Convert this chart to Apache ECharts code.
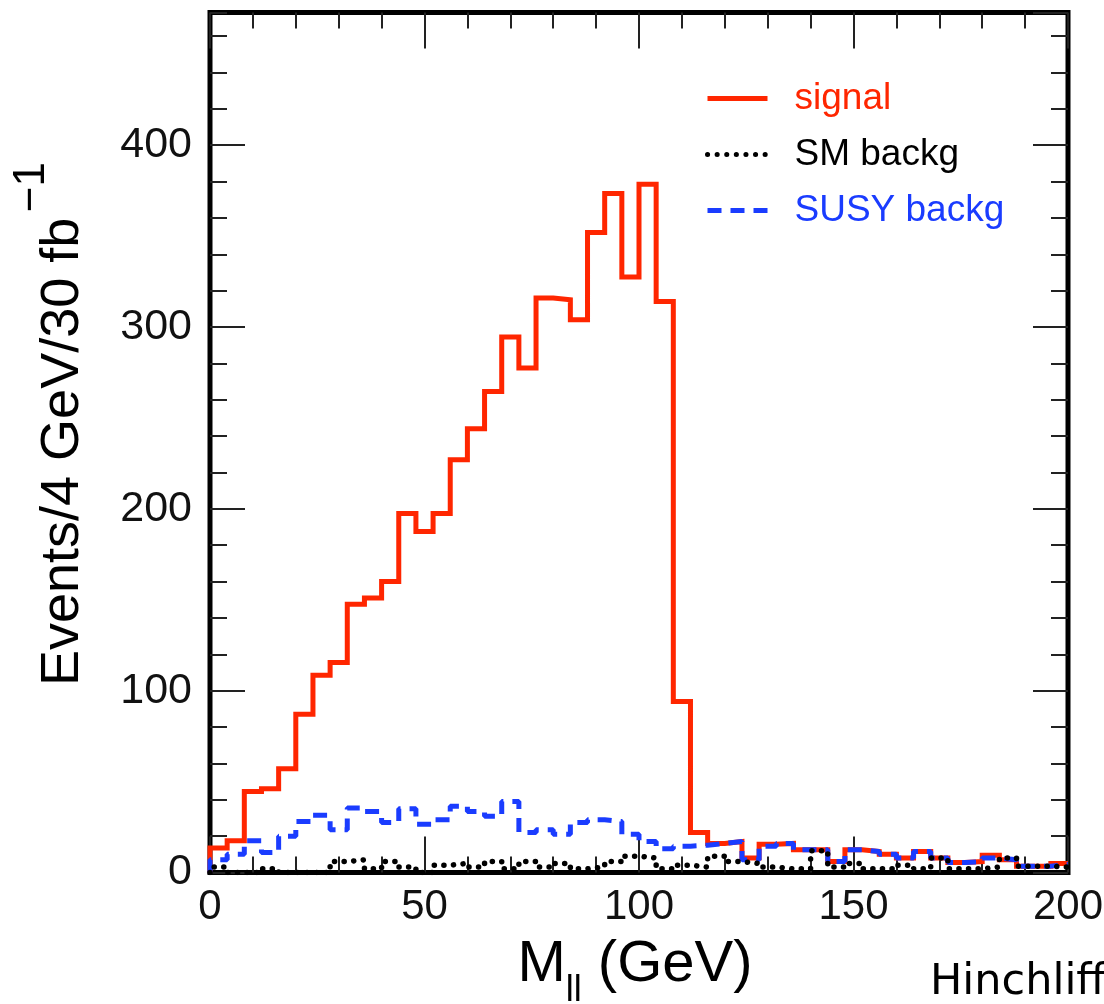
<!DOCTYPE html>
<html><head><meta charset="utf-8">
<script src="https://cdn.jsdelivr.net/npm/echarts@6/dist/echarts.min.js"></script>
<style>html,body{margin:0;padding:0;background:#fff}#c{width:1104px;height:1004px}</style>
</head><body><div id="c"></div>
<script>
// bin edges of the M_ll histogram (4 GeV bins, 0-200 GeV)
const binEdges = [0,4,8,12,16,20,24,28,32,36,40,44,48,52,56,60,64,68,72,76,80,84,88,92,96,100,104,108,112,116,120,124,128,132,136,140,144,148,152,156,160,164,168,172,176,180,184,188,192,196,200];
const signal = [13.5,17.5,44.5,46,57,87,108.5,115.5,147.5,151,160,197.5,187.5,197.5,227,244,264.5,294.5,277.5,316,315,304,352,373.5,327.5,378.5,314,94,22,16,17,8,15.5,16,12.5,12.5,6,12.5,11.5,10,8,11.5,8,5.5,6,9.5,7,3.5,3.5,5];
const smBackg = [3,0,0,2,0,0,0,6,7,2,6,3,0,4,5,3,6,2,6,3,5,2,3,6,9,8,2,4,3,9,6,5,3,2,2,12,3,5,2,2,4,2,8,2,2,3,8,3.5,3.5,3];
const susyBackg = [7,10,17.5,11,20,28,31.5,23.5,35.5,33.5,27.5,35,26.5,29,36.5,33.5,31,39,22,23.5,21,27.5,29,28,21,17,13,14.5,15,16,17,7,14.5,16,12.5,12.5,6,12.5,11.5,10,8,11.5,8,5.5,6,8,7,3.5,3.5,4.5];
const seriesNames = ['signal','SM backg','SUSY backg'];
const xTickLabels = [0,50,100,150,200];
const yTickLabels = [0,100,200,300,400];

function stepData(vals){
  const d = [[binEdges[0], 0]];
  vals.forEach((v,i) => d.push([binEdges[i], v]));
  d.push([binEdges[vals.length], vals[vals.length-1]]);
  return d;
}

const RED = '#ff2600', BLUE = '#1a3cff', BLACK = '#000';
const FONT = "'Liberation Sans', Arial, Helvetica, sans-serif";
const X_MIN = 0, X_MAX = 200, Y_MIN = 0, Y_MAX = 473;

const tickStyle = {color:'#222', width:2};
function xAx(pos, interval, len, labels, extra){
  return Object.assign({
    type:'value', position:pos, min:X_MIN, max:X_MAX, interval:interval,
    axisLine:{show:false, onZero:false}, splitLine:{show:false},
    axisTick:{show:true, inside:true, length:len, lineStyle:tickStyle},
    axisLabel: labels ? {show:true, fontSize:42, color:'#111', fontFamily:FONT, margin:14, showMinLabel:true, showMaxLabel:true,
      formatter: v => xTickLabels.includes(v) ? String(v) : ''} : {show:false}
  }, extra||{});
}
function yAx(pos, interval, len, labels, extra){
  return Object.assign({
    type:'value', position:pos, min:Y_MIN, max:Y_MAX, interval:interval,
    axisLine:{show:false, onZero:false}, splitLine:{show:false},
    axisTick:{show:true, inside:true, length:len, lineStyle:tickStyle},
    axisLabel: labels ? {show:true, fontSize:43, color:'#111', fontFamily:FONT, margin:18, showMaxLabel:false,
      formatter: v => yTickLabels.includes(v) ? String(v) : ''} : {show:false}
  }, extra||{});
}

const chart = echarts.init(document.getElementById('c'), null, {renderer:'canvas'});
chart.setOption({
  animation:false,
  backgroundColor:'#fff',
  grid:{left:210, right:36, top:12.5, bottom:131.5, outerBoundsMode:'none', containLabel:false,
        show:true, borderColor:'#000', borderWidth:5, backgroundColor:'transparent'},
  legend:{
    show:true, orient:'vertical', left:700, top:75, itemWidth:60, itemHeight:16, itemGap:19,
    textStyle:{fontSize:37, fontFamily:FONT, padding:[0,0,0,22]},
    lineStyle:{width:5},
    itemStyle:{opacity:0},
    data:[
      {name:seriesNames[0], textStyle:{color:RED}, itemStyle:{opacity:0}},
      {name:seriesNames[1], textStyle:{color:BLACK}, itemStyle:{opacity:0}},
      {name:seriesNames[2], textStyle:{color:BLUE}, itemStyle:{opacity:0}}
    ]
  },
  xAxis:[
    xAx('bottom', 50, 36, true, {
      name:'{m|M}{s|ll}{m| (GeV)}', nameLocation:'middle', nameGap:63,
      nameTextStyle:{fontFamily:FONT, color:'#000', padding:[0,8,0,0],
        rich:{ m:{fontSize:58, fontFamily:FONT, lineHeight:60, verticalAlign:'top', color:'#000'},
               s:{fontSize:36, fontFamily:FONT, verticalAlign:'top', padding:[38,0,0,0], color:'#000'} } }
    }),
    xAx('bottom', 10, 16, false),
    xAx('top', 50, 36, false),
    xAx('top', 10, 16, false)
  ],
  yAxis:[
    yAx('left', 100, 35, true, {
      name:'{m|Events/4 GeV/30 fb}{sp| }{sup|\u22121}', nameLocation:'middle', nameRotate:90, nameGap:120,
      nameTextStyle:{fontFamily:FONT, color:'#000', padding:[0,0,0,37],
        rich:{ m:{fontSize:54, fontFamily:FONT, lineHeight:80, verticalAlign:'bottom', color:'#000'},
               sp:{fontSize:20, lineHeight:80, verticalAlign:'bottom'},
               sup:{fontSize:44, fontFamily:FONT, lineHeight:40, verticalAlign:'top', color:'#000'} } }
    }),
    yAx('left', 20, 17, false),
    yAx('right', 100, 35, false),
    yAx('right', 20, 17, false)
  ],
  graphic:[
    {type:'text', left:930, top:961, style:{text:'Hinchliffe', fontSize:43, fontFamily:"'DejaVu Sans', sans-serif", fill:'#000'}}
  ],
  series:[
    {name:seriesNames[0], type:'line', step:'end', xAxisIndex:0, yAxisIndex:0, symbol:'none', data:stepData(signal),
     lineStyle:{color:RED, width:5, cap:'butt', join:'miter'}, itemStyle:{color:RED}, z:2},
    {name:seriesNames[2], type:'line', step:'end', xAxisIndex:0, yAxisIndex:0, symbol:'none', data:stepData(susyBackg),
     lineStyle:{color:BLUE, width:5, type:[14,9]}, itemStyle:{color:BLUE}, z:3},
    {name:seriesNames[1], type:'line', step:'end', xAxisIndex:0, yAxisIndex:0, symbol:'none', data:stepData(smBackg),
     lineStyle:{color:BLACK, width:5.5, type:[0.1,9.5], cap:'round'}, itemStyle:{color:BLACK}, z:4}
  ]
});
</script></body></html>
